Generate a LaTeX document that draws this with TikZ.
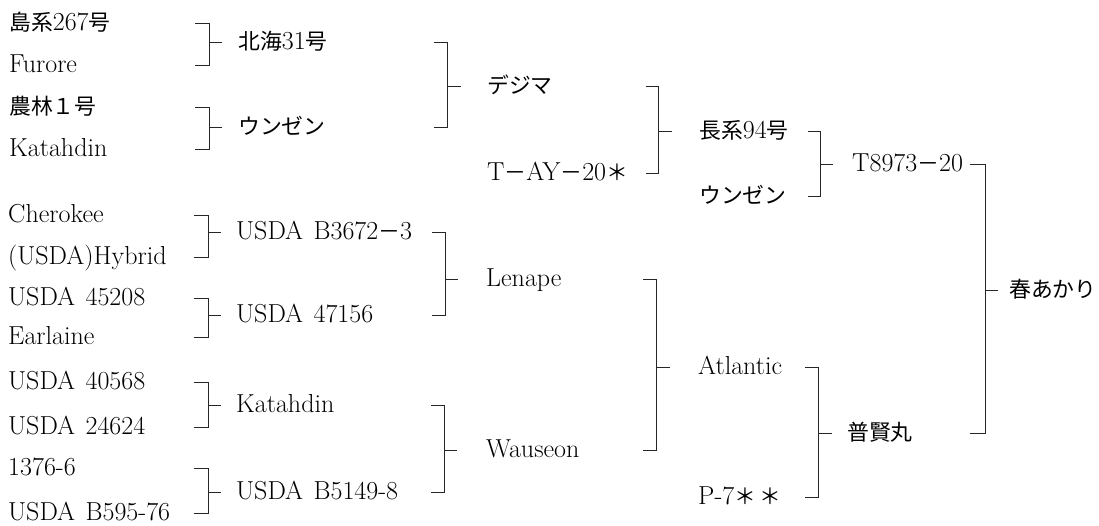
\documentclass[tikz,border=0pt]{standalone}
\usepackage{fontspec}
\newfontfamily\jp[Scale=0.84]{Noto Sans CJK JP}
\newcommand{\US}{USDA\hspace{0.4em}}
\begin{document}
\begin{tikzpicture}[x=1pt,y=-1pt,
  lbl/.style={anchor=west,inner sep=0pt,text height=19pt,text depth=5pt,
    font=\fontsize{26}{30}\selectfont},
  br/.style={line width=0.9pt,black!85}]
\useasboundingbox (0,0) rectangle (1099,525);
% column 0
\node[lbl] (a1) at (9,23) {{\jp 島系}267{\jp 号}};
\node[lbl] (a2) at (9,65) {Furore};
\node[lbl] (a3) at (9,107) {{\jp 農林１号}};
\node[lbl] (a4) at (9,149) {Katahdin};
\node[lbl] (a5) at (8,215) {Cherokee};
\node[lbl] (a6) at (8,257) {(USDA)Hybrid};
\node[lbl] (a7) at (8,298) {\US45208};
\node[lbl] (a8) at (8,337) {Earlaine};
\node[lbl] (a9) at (8,382) {\US40568};
\node[lbl] (a10) at (8,427) {\US24624};
\node[lbl] (a11) at (8,468) {1376-6};
\node[lbl] (a12) at (8,513) {\US B595-76};
% column 1
\node[lbl] (b1) at (238,42) {{\jp 北海}31{\jp 号}};
\node[lbl] (b2) at (238,127) {{\jp ウンゼン}};
\node[lbl] (b3) at (236,232) {\US B3672{\jp －}3};
\node[lbl] (b4) at (236,315) {\US47156};
\node[lbl] (b5) at (236,405) {Katahdin};
\node[lbl] (b6) at (236,492) {\US B5149-8};
% column 2
\node[lbl] (c1) at (487,86) {{\jp デジマ}};
\node[lbl] (c2) at (487,173) {T{\jp －}AY{\jp －}20{\jp ＊}};
\node[lbl] (c3) at (486,279) {Lenape};
\node[lbl] (c4) at (486,450) {Wauseon};
% column 3
\node[lbl] (d1) at (699,131) {{\jp 長系}94{\jp 号}};
\node[lbl] (d2) at (699,196) {{\jp ウンゼン}};
\node[lbl] (d3) at (698,367) {Atlantic};
\node[lbl] (d4) at (698,497) {P-7{\jp ＊\,＊}};
% column 4
\node[lbl] (e1) at (852,164) {T8973{\jp －}20};
\node[lbl] (e2) at (847,433) {{\jp 普賢丸}};
% column 5
\node[lbl] (f1) at (1009,290) {{\jp 春あかり}};
% brackets column 0 -> 1
\draw[br] (195,0 |- a1) -- (209,0 |- a1) -- (209,0 |- a2) -- (195,0 |- a2);
\draw[br] (209,0 |- b1) -- (222,0 |- b1);
\draw[br] (195,0 |- a3) -- (209,0 |- a3) -- (209,0 |- a4) -- (195,0 |- a4);
\draw[br] (209,0 |- b2) -- (222,0 |- b2);
\draw[br] (194,0 |- a5) -- (208,0 |- a5) -- (208,0 |- a6) -- (194,0 |- a6);
\draw[br] (208,0 |- b3) -- (221,0 |- b3);
\draw[br] (194,0 |- a7) -- (208,0 |- a7) -- (208,0 |- a8) -- (194,0 |- a8);
\draw[br] (208,0 |- b4) -- (221,0 |- b4);
\draw[br] (194,0 |- a9) -- (208,0 |- a9) -- (208,0 |- a10) -- (194,0 |- a10);
\draw[br] (208,0 |- b5) -- (221,0 |- b5);
\draw[br] (194,0 |- a11) -- (208,0 |- a11) -- (208,0 |- a12) -- (194,0 |- a12);
\draw[br] (208,0 |- b6) -- (221,0 |- b6);
% brackets column 1 -> 2
\draw[br] (434,0 |- b1) -- (447,0 |- b1) -- (447,0 |- b2) -- (434,0 |- b2);
\draw[br] (447,0 |- c1) -- (461,0 |- c1);
\draw[br] (432,0 |- b3) -- (445,0 |- b3) -- (445,0 |- b4) -- (432,0 |- b4);
\draw[br] (445,0 |- c3) -- (458,0 |- c3);
\draw[br] (431,0 |- b5) -- (444,0 |- b5) -- (444,0 |- b6) -- (431,0 |- b6);
\draw[br] (444,0 |- c4) -- (457,0 |- c4);
% brackets column 2 -> 3
\draw[br] (646,0 |- c1) -- (658,0 |- c1) -- (658,0 |- c2) -- (646,0 |- c2);
\draw[br] (658,0 |- d1) -- (672,0 |- d1);
\draw[br] (643,0 |- c3) -- (656,0 |- c3) -- (656,0 |- c4) -- (643,0 |- c4);
\draw[br] (656,0 |- d3) -- (670,0 |- d3);
% brackets column 3 -> 4
\draw[br] (808,0 |- d1) -- (820,0 |- d1) -- (820,0 |- d2) -- (808,0 |- d2);
\draw[br] (820,0 |- e1) -- (833,0 |- e1);
\draw[br] (805,0 |- d3) -- (818,0 |- d3) -- (818,0 |- d4) -- (805,0 |- d4);
\draw[br] (818,0 |- e2) -- (832,0 |- e2);
% bracket column 4 -> 5
\draw[br] (970,0 |- e1) -- (985,0 |- e1) -- (985,0 |- e2) -- (970,0 |- e2);
\draw[br] (985,0 |- f1) -- (998,0 |- f1);
\end{tikzpicture}
\end{document}
